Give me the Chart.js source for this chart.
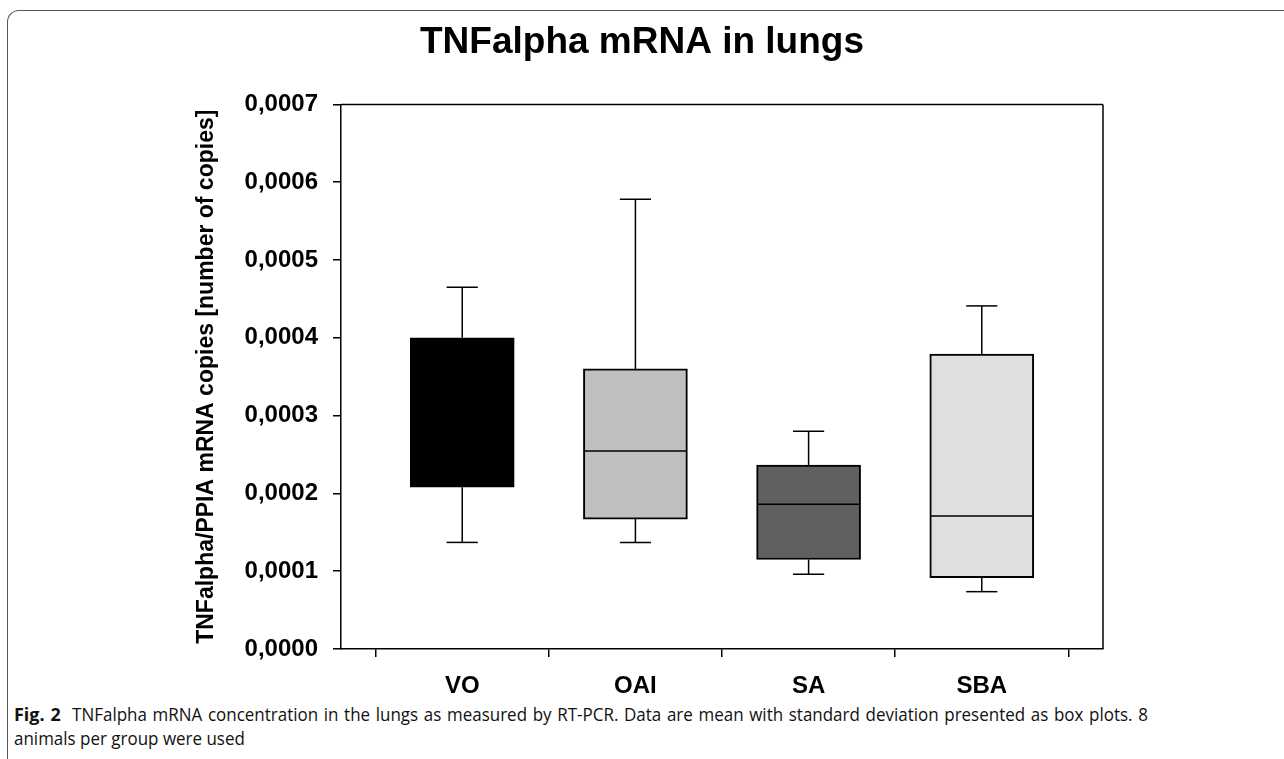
<!DOCTYPE html>
<html lang="en">
<head>
<meta charset="UTF-8">
<title>TNFalpha mRNA in lungs</title>
<script src="https://cdn.jsdelivr.net/npm/chart.js"></script>
<style>
    body { margin: 0; background: #fff; width: 1284px; height: 759px; overflow: hidden; position: relative; }
    .frame { position: absolute; left: 7px; top: 10px; width: 1400px; height: 800px;
             border-top: 1.5px solid #555; border-left: 1.5px solid #555; border-top-left-radius: 12px; }
    .chart-box { position: absolute; left: 0; top: 0; width: 1284px; height: 700px; }
    .caption { position: absolute; left: 14px; top: 702px; width: 1169px; font-family: "Open Sans", sans-serif;
               font-size: 17.5px; line-height: 24px; color: #111; transform: scaleX(0.97); transform-origin: 0 0; }
    .caption .first { text-align: justify; text-align-last: justify; }
    .caption b { font-size: 18.5px; }
</style>
<script>
    // values
    const groups = ['VO', 'OAI', 'SA', 'SBA'];
    const whiskerLow  = [0.000137, 0.000137, 0.000096, 0.0000737];
    const boxLow      = [0.000208, 0.000167, 0.000115, 0.0000917];
    const medians     = [0.00031,  0.0002545, 0.000186, 0.000171];
    const boxHigh     = [0.0004,   0.00036,  0.0002365, 0.000379];
    const whiskerHigh = [0.000465, 0.000578, 0.00028,  0.000441];
    const boxColors = ['#000000', '#c0c0c0', '#606060', '#dfdfdf'];
    const yTicks = [0, 0.0001, 0.0002, 0.0003, 0.0004, 0.0005, 0.0006, 0.0007];
    const yTickLabels = ['0,0000', '0,0001', '0,0002', '0,0003', '0,0004', '0,0005', '0,0006', '0,0007'];

    // whiskers, caps, medians and the top/right frame
    const boxExtras = {
        id: 'boxExtras',
        afterDatasetsDraw(chart) {
            const { ctx, chartArea, scales: { x, y } } = chart;
            const bars = chart.getDatasetMeta(0).data;
            ctx.save();
            ctx.strokeStyle = '#000';
            ctx.lineWidth = 1.5;
            const seg = (x1, y1, x2, y2) => {
                ctx.beginPath(); ctx.moveTo(x1, y1); ctx.lineTo(x2, y2); ctx.stroke();
            };
            groups.forEach((g, i) => {
                const cx = x.getPixelForValue(i + 1);
                const half = bars[i].width / 2;
                const cap = bars[i].width * 0.15;
                const yHi = y.getPixelForValue(whiskerHigh[i]);
                const yLo = y.getPixelForValue(whiskerLow[i]);
                seg(cx, y.getPixelForValue(boxHigh[i]), cx, yHi);
                seg(cx - cap, yHi, cx + cap, yHi);
                seg(cx, y.getPixelForValue(boxLow[i]), cx, yLo);
                seg(cx - cap, yLo, cx + cap, yLo);
                const ym = y.getPixelForValue(medians[i]);
                seg(cx - half + 1, ym, cx + half - 1, ym);
            });
            seg(chartArea.left, chartArea.top, chartArea.right, chartArea.top);
            seg(chartArea.right, chartArea.top, chartArea.right, chartArea.bottom);
            ctx.restore();
        }
    };

    document.addEventListener('DOMContentLoaded', () => {
        Chart.defaults.color = '#000';
        Chart.defaults.font.family = '"Liberation Sans", Arial, sans-serif';
        const ctx = document.getElementById('boxChart').getContext('2d');
        window.boxChart = new Chart(ctx, {
            type: 'bar',
            data: {
                datasets: [{
                    data: groups.map((g, i) => ({ x: i + 1, y: [boxLow[i], boxHigh[i]] })),
                    backgroundColor: boxColors,
                    borderColor: '#000',
                    borderWidth: 2,
                    borderSkipped: false,
                    barThickness: 104
                }]
            },
            options: {
                responsive: true,
                maintainAspectRatio: false,
                animation: false,
                layout: { padding: 0 },
                plugins: {
                    legend: { display: false },
                    tooltip: { enabled: false },
                    title: {
                        display: true,
                        text: 'TNFalpha mRNA in lungs',
                        font: { size: 37, weight: 'bold' },
                        padding: { top: 21, bottom: 39 }
                    }
                },
                scales: {
                    x: {
                        type: 'linear',
                        min: 0.3,
                        max: 4.7,
                        offset: false,
                        afterBuildTicks: s => { s.ticks = groups.map((g, i) => ({ value: i + 1 })); },
                        afterFit: s => { s.height = 51; },
                        ticks: {
                            callback: v => groups[v - 1],
                            font: { size: 24, weight: 'bold' },
                            padding: 15,
                            autoSkip: false,
                            maxRotation: 0
                        },
                        grid: { drawOnChartArea: false, drawTicks: true, tickLength: 8, color: '#000', lineWidth: 1.5 },
                        border: { display: true, color: '#000', width: 1.5 }
                    },
                    y: {
                        min: 0,
                        max: 0.0007,
                        afterBuildTicks: s => { s.ticks = yTicks.map(v => ({ value: v })); },
                        afterFit: s => { s.width = 341; },
                        ticks: {
                            callback: (v, i) => yTickLabels[i],
                            font: { size: 24, weight: 'bold' },
                            padding: 15
                        },
                        grid: { drawOnChartArea: false, drawTicks: true, tickLength: 8, color: '#000', lineWidth: 1.5 },
                        border: { display: true, color: '#000', width: 1.5 },
                        title: {
                            display: true,
                            text: 'TNFalpha/PPIA mRNA copies [number of copies]',
                            font: { size: 23, weight: 'bold' },
                            padding: { top: 193, bottom: 0 }
                        }
                    },
                    // empty right-hand axis, only holds the white space right of the plot
                    yRight: {
                        position: 'right',
                        min: 0,
                        max: 0.0007,
                        afterFit: s => { s.width = 181; },
                        ticks: { display: false },
                        grid: { display: false },
                        border: { display: false }
                    }
                }
            },
            plugins: [boxExtras]
        });
    });
</script>
</head>
<body>
    <div class="frame"></div>
    <div class="chart-box"><canvas id="boxChart"></canvas></div>
    <div class="caption">
        <div class="first"><b>Fig. 2</b>&nbsp; TNFalpha mRNA concentration in the lungs as measured by RT-PCR. Data are mean with standard deviation presented as box plots. 8</div>
        <div>animals per group were used</div>
    </div>
</body>
</html>
